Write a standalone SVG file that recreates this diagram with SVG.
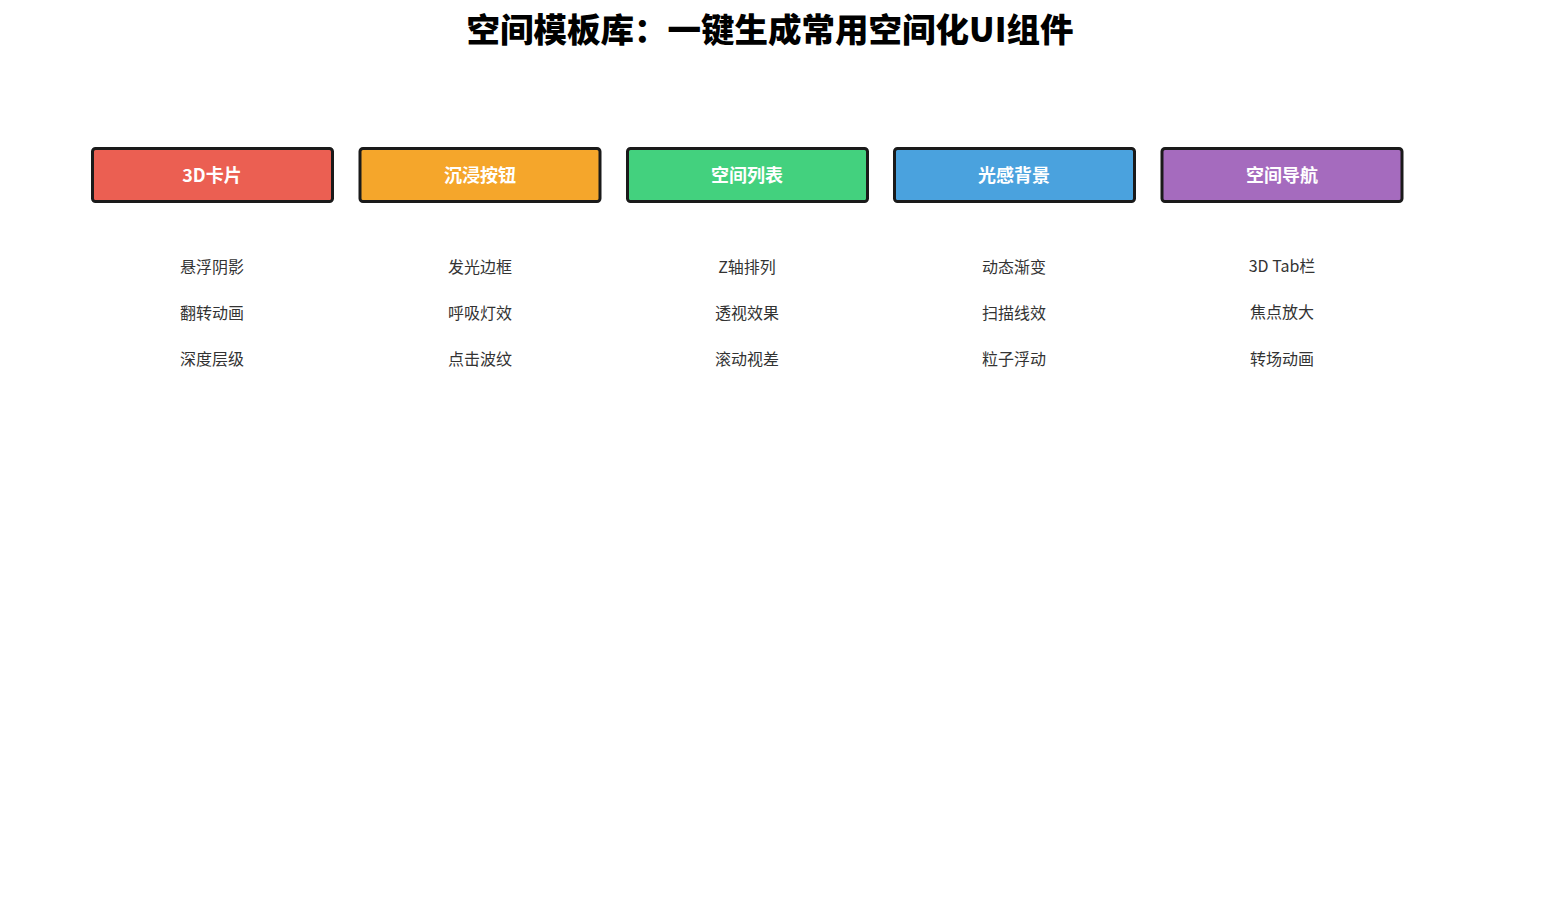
<svg xmlns="http://www.w3.org/2000/svg" width="1541" height="906" viewBox="0 0 1541 906">
<style>
.title{font-family:"Noto Sans CJK SC","Noto Sans",sans-serif;font-size:33.5px;font-weight:900;fill:#000;text-anchor:middle}
.box{stroke:#1a1a1a;stroke-width:3}
.lbl{font-family:"Noto Sans CJK SC","Noto Sans",sans-serif;font-size:18px;font-weight:bold;fill:#fff;text-anchor:middle;dominant-baseline:central}
.item{font-family:"Noto Sans CJK SC","Noto Sans",sans-serif;font-size:16px;fill:#333;text-anchor:middle;dominant-baseline:central}
</style>
<rect width="1541" height="906" fill="#fff"/>
<text class="title" x="770" y="42">空间模板库：一键生成常用空间化UI组件</text>
<g id="card">
<rect class="box" x="92.5" y="148.5" width="240" height="53" rx="3" fill="#EB5F52"/>
<text class="lbl" x="212" y="173.5">3D卡片</text>
<text class="item" x="212" y="266">悬浮阴影</text>
<text class="item" x="212" y="312">翻转动画</text>
<text class="item" x="212" y="358">深度层级</text>
</g>
<g id="button">
<rect class="box" x="360" y="148.5" width="240" height="53" rx="3" fill="#F5A62B"/>
<text class="lbl" x="480" y="173.5">沉浸按钮</text>
<text class="item" x="480" y="266">发光边框</text>
<text class="item" x="480" y="312">呼吸灯效</text>
<text class="item" x="480" y="358">点击波纹</text>
</g>
<g id="list">
<rect class="box" x="627.5" y="148.5" width="240" height="53" rx="3" fill="#43D17E"/>
<text class="lbl" x="747" y="173.5">空间列表</text>
<text class="item" x="747" y="266">Z轴排列</text>
<text class="item" x="747" y="312">透视效果</text>
<text class="item" x="747" y="357.5">滚动视差</text>
</g>
<g id="background">
<rect class="box" x="894.5" y="148.5" width="240" height="53" rx="3" fill="#4AA2DE"/>
<text class="lbl" x="1014" y="173.5">光感背景</text>
<text class="item" x="1014" y="266">动态渐变</text>
<text class="item" x="1014" y="312">扫描线效</text>
<text class="item" x="1014" y="358">粒子浮动</text>
</g>
<g id="nav">
<rect class="box" x="1162" y="148.5" width="240" height="53" rx="3" fill="#A56BBE"/>
<text class="lbl" x="1282" y="173.5">空间导航</text>
<text class="item" x="1282" y="265">3D Tab栏</text>
<text class="item" x="1282" y="311">焦点放大</text>
<text class="item" x="1282" y="358">转场动画</text>
</g>
<g id="connectors"></g>
</svg>
